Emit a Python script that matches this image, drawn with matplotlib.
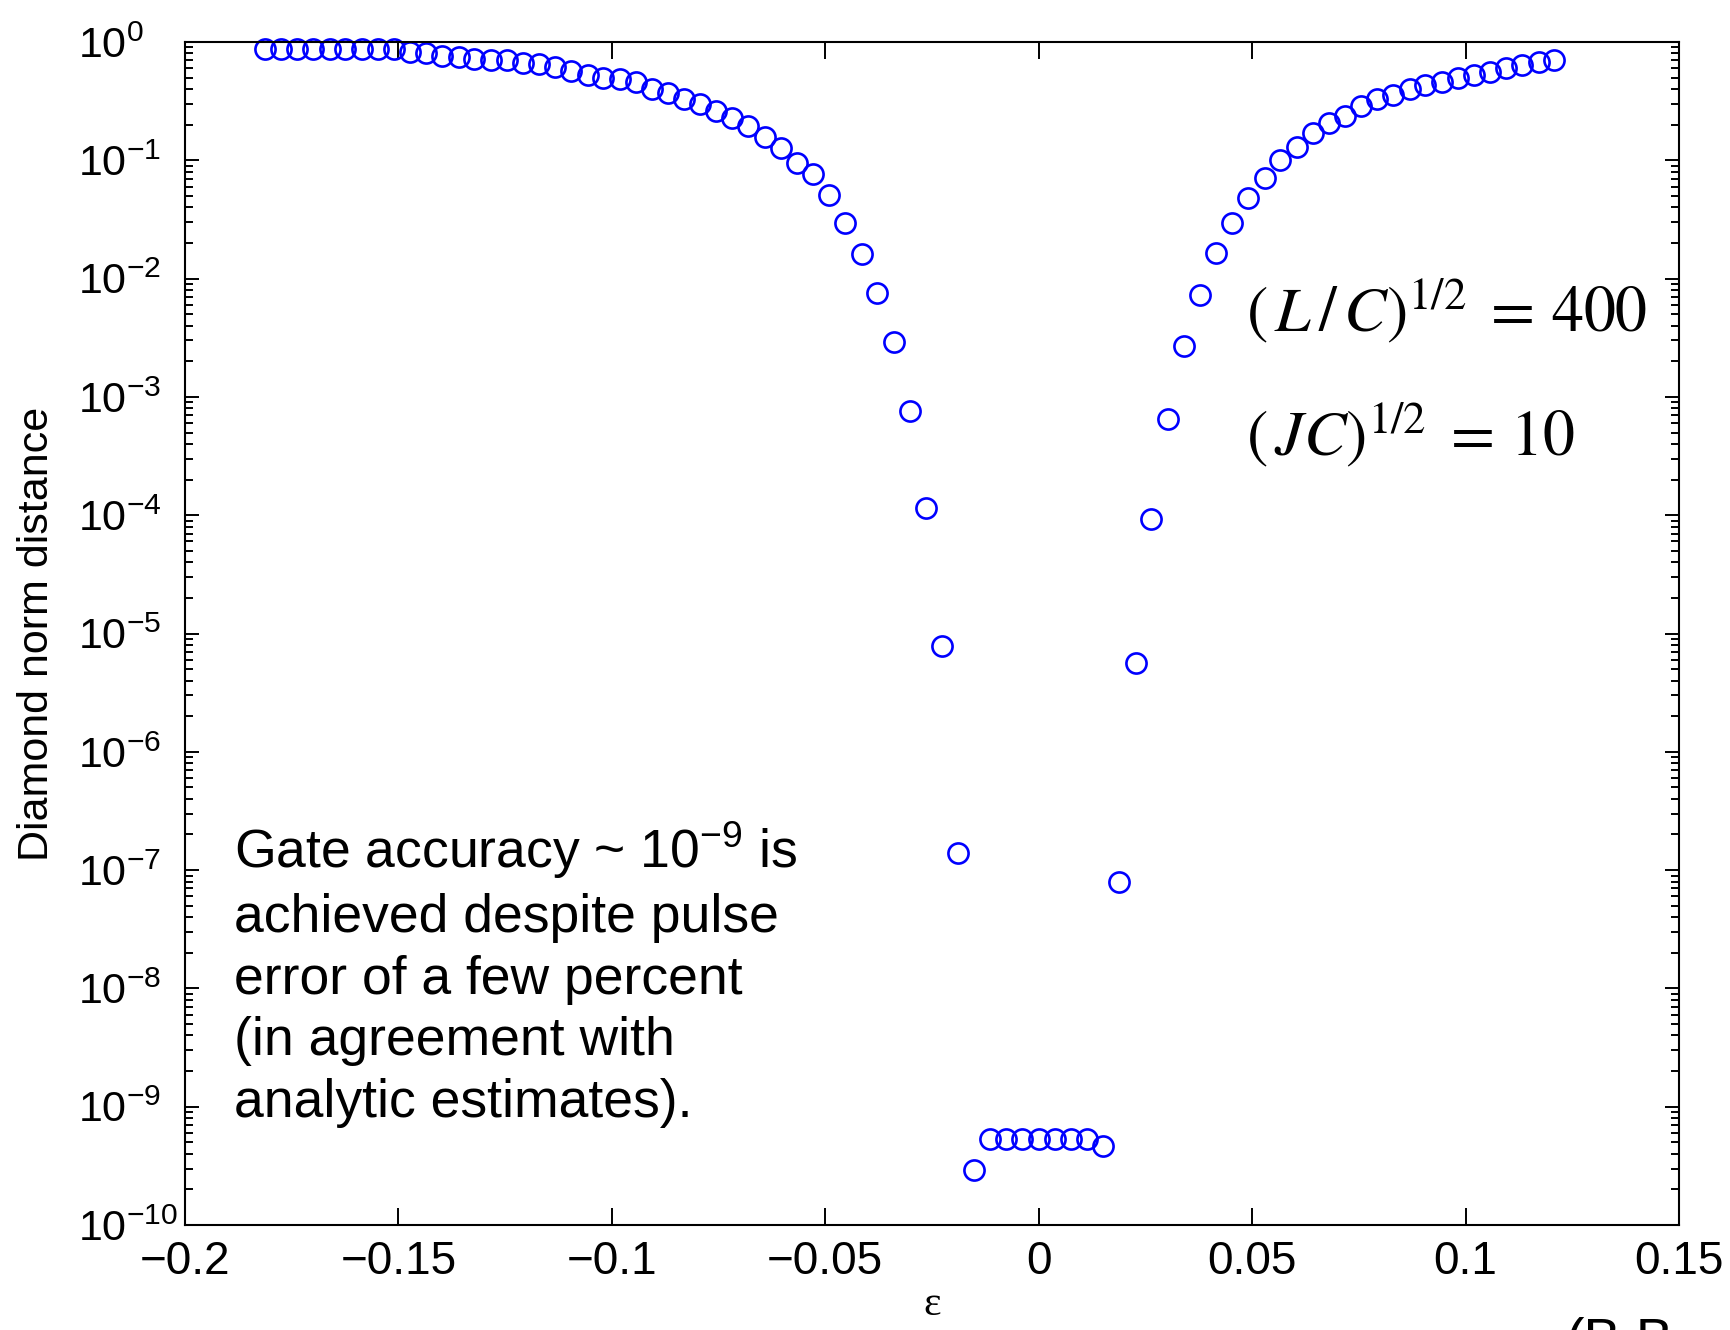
import numpy as np
import matplotlib
matplotlib.use('Agg')
import matplotlib.pyplot as plt
from matplotlib.ticker import FixedLocator, LogLocator, NullFormatter

plt.rcParams['font.family'] = ['Liberation Sans', 'DejaVu Sans']
plt.rcParams['mathtext.fontset'] = 'custom'
plt.rcParams['mathtext.rm'] = 'Liberation Sans'
plt.rcParams['mathtext.it'] = 'Liberation Sans:italic'
plt.rcParams['mathtext.bf'] = 'Liberation Sans:bold'

# pulse error (epsilon) and diamond norm distance
eps = [-0.1812, -0.1775, -0.1737, -0.1699, -0.1661, -0.1624, -0.1586, -0.1548,
       -0.1510, -0.1473, -0.1435, -0.1397, -0.1359, -0.1322, -0.1284, -0.1246,
       -0.1208, -0.1171, -0.1133, -0.1095, -0.1057, -0.1020, -0.0982, -0.0944,
       -0.0906, -0.0869, -0.0831, -0.0793, -0.0755, -0.0718, -0.0680, -0.0642,
       -0.0604, -0.0566, -0.0529, -0.0491, -0.0453, -0.0415, -0.0378, -0.0340,
       -0.0302, -0.0264, -0.0227, -0.0189, -0.0151, -0.0113, -0.0076, -0.0038,
       0.0000, 0.0038, 0.0076, 0.0113, 0.0151, 0.0189, 0.0227, 0.0264,
       0.0302, 0.0340, 0.0378, 0.0415, 0.0453, 0.0491, 0.0529, 0.0566,
       0.0604, 0.0642, 0.0680, 0.0718, 0.0755, 0.0793, 0.0831, 0.0869,
       0.0906, 0.0944, 0.0982, 0.1020, 0.1057, 0.1095, 0.1133, 0.1171,
       0.1208]
dist = [0.87, 0.87, 0.87, 0.87, 0.87, 0.87, 0.87, 0.87,
        0.87, 0.82, 0.81, 0.755, 0.75, 0.72, 0.71, 0.70,
        0.66, 0.65, 0.61, 0.57, 0.53, 0.50, 0.49, 0.46,
        0.40, 0.37, 0.33, 0.30, 0.26, 0.23, 0.195, 0.158,
        0.126, 0.095, 0.076, 0.051, 0.0295, 0.0162, 0.0076, 0.0029,
        7.6e-4, 1.15e-4, 7.8e-6, 1.4e-7, 2.9e-10, 5.3e-10, 5.3e-10, 5.3e-10,
        5.3e-10, 5.3e-10, 5.3e-10, 5.3e-10, 4.66e-10, 7.9e-8, 5.6e-6, 9.3e-5,
        6.5e-4, 2.7e-3, 7.2e-3, 0.0164, 0.0297, 0.0478, 0.0713, 0.1007,
        0.130, 0.169, 0.208, 0.237, 0.288, 0.328, 0.354, 0.398,
        0.434, 0.462, 0.493, 0.526, 0.561, 0.598, 0.640, 0.682,
        0.705]

x_ticks = [-0.2, -0.15, -0.1, -0.05, 0, 0.05, 0.1, 0.15]
x_tick_labels = ['\u22120.2', '\u22120.15', '\u22120.1', '\u22120.05', '0', '0.05', '0.1', '0.15']
y_exponents = [0, -1, -2, -3, -4, -5, -6, -7, -8, -9, -10]

note = ('Gate accuracy ~ 10$^{\\mathregular{-9}}$ is\n'
        'achieved despite pulse\n'
        'error of a few percent\n'
        '(in agreement with\n'
        'analytic estimates).')

W, H = 1731, 1330
fig = plt.figure(figsize=(W / 100, H / 100), dpi=100)
ax = fig.add_axes([185 / W, 1 - 1225 / H, (1679 - 185) / W, (1225 - 42) / H])

ax.plot(eps, dist, linestyle='none', marker='o', markersize=14.5,
        markerfacecolor='none', markeredgecolor='#0000ff', markeredgewidth=1.9,
        clip_on=False)

ax.set_yscale('log')
ax.set_xlim(-0.2, 0.15)
ax.set_ylim(1e-10, 1)

ax.xaxis.set_major_locator(FixedLocator(x_ticks))
ax.set_xticklabels(x_tick_labels)
ax.yaxis.set_major_locator(FixedLocator([10.0 ** e for e in y_exponents]))
ax.set_yticklabels([r'$\mathregular{10^{%d}}$' % e for e in y_exponents], ha='left')
ax.yaxis.set_minor_locator(LogLocator(base=10, subs=np.arange(2, 10), numticks=100))
ax.yaxis.set_minor_formatter(NullFormatter())

for s in ax.spines.values():
    s.set_linewidth(1.5)
ax.tick_params(axis='both', which='both', direction='in', top=True, right=True, width=1.4)
ax.tick_params(axis='x', which='major', length=12, pad=11, labelsize=33)
ax.tick_params(axis='x', which='minor', bottom=False, top=False)
ax.tick_params(axis='y', which='major', length=10, pad=77, labelsize=31)
ax.tick_params(axis='y', which='minor', length=5.5)

ax.set_ylabel('Diamond norm distance', fontsize=31)
ax.yaxis.set_label_coords(-0.086, 0.5)
ax.set_xlabel('\u03b5', fontsize=30, family='Liberation Serif')
ax.xaxis.set_label_coords(0.5, -0.051)

fig.text(234 / W, 1 - 820 / H, note, fontsize=38.5, ha='left', va='top', linespacing=1.3)

fig.text(1246 / W, 1 - 331 / H, r'$\left(\,L\,/\,C\right)^{1/2}\;=\,400$',
         fontsize=46, math_fontfamily='stix', ha='left', va='baseline')
fig.text(1246 / W, 1 - 455 / H, r'$\left(\,JC\right)^{1/2}\;=\,10$',
         fontsize=46, math_fontfamily='stix', ha='left', va='baseline')

fig.text(1566 / W, 1 - 1357 / H, '(B.B.', fontsize=40, ha='left', va='baseline')

fig.savefig('out.png', dpi=100)
